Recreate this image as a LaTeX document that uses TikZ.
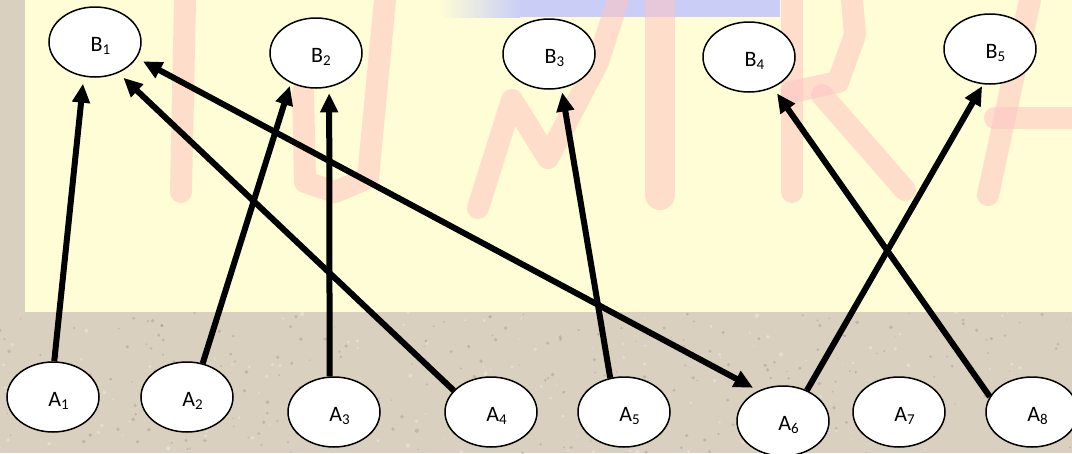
\documentclass[tikz,border=0pt]{standalone}
\usepackage{fontspec}
\setmainfont{Carlito}
\usetikzlibrary{shapes.geometric,arrows.meta}
\definecolor{bgbeige}{HTML}{D9D0BF}
\definecolor{bgyellow}{HTML}{FEFDD6}
\definecolor{bgpink}{HTML}{FFC4C2}
\definecolor{bgblue}{HTML}{CACEF6}
\newcommand\subsc[1]{\raisebox{-3pt}{\fontsize{15}{15}\selectfont #1}}
\tikzset{
  ell/.style={ellipse, draw=black, line width=1.5pt, fill=white,
    minimum width=92pt, minimum height=70pt, inner sep=0pt,
    font=\fontsize{22}{22}\selectfont, text height=18pt, text depth=0pt},
  conn/.style={line width=6pt},
  >={Triangle[length=19pt,width=17pt]},
  deco/.style={line width=22pt, draw=bgpink, opacity=0.55, line cap=round, line join=round}
}
\begin{document}
\begin{tikzpicture}[x=1pt,y=-1pt]
\useasboundingbox (0,0) rectangle (1072,453);
% background
\fill[bgbeige] (0,0) rectangle (1072,453);
\pgfmathsetseed{7}
\foreach \i in {1,...,260}{
  \pgfmathsetmacro\rx{rnd*1072}
  \pgfmathsetmacro\ry{312+rnd*141}
  \pgfmathsetmacro\rr{0.6+rnd*1.4}
  \fill[black!35!bgbeige, opacity=0.35] (\rx,\ry) circle[radius=\rr];
}
\foreach \i in {1,...,160}{
  \pgfmathsetmacro\rx{rnd*1072}
  \pgfmathsetmacro\ry{312+rnd*141}
  \pgfmathsetmacro\rr{0.6+rnd*1.6}
  \fill[white, opacity=0.3] (\rx,\ry) circle[radius=\rr];
}
\fill[bgyellow] (25,0) rectangle (1072,312);
% faint top band
\shade[left color=bgyellow, right color=bgblue] (440,0) rectangle (520,17);
\fill[bgblue] (520,0) rectangle (780,17);
% faint background letters
\draw[deco] (185,0) -- (181,192);
\draw[deco] (303,92) -- (305,182) -- (335,192) -- (368,178) -- (385,0);
\draw[deco] (478,208) -- (512,100) -- (548,158) -- (598,62) -- (618,0);
\draw[deco, line width=30pt] (660,0) -- (660,195);
\draw[deco] (792,0) -- (792,192);
\draw[deco] (792,92) -- (838,82) -- (855,35) -- (852,0);
\draw[deco] (822,95) -- (905,190);
\draw[deco] (1030,0) -- (988,195);
\draw[deco] (995,118) -- (1072,118);
% nodes
\node[ell] (B1) at (95,42) {\hspace*{11pt}B\subsc{1}};
\node[ell] (B2) at (316,53) {\hspace*{10pt}B\subsc{2}};
\node[ell] (B3) at (549,54) {\hspace*{11pt}B\subsc{3}};
\node[ell] (B4) at (749,57) {\hspace*{11pt}B\subsc{4}};
\node[ell] (B5) at (990,49) {\hspace*{11pt}B\subsc{5}};
\node[ell] (A1) at (53,397) {\hspace*{11pt}A\subsc{1}};
\node[ell] (A2) at (187,397) {\hspace*{11pt}A\subsc{2}};
\node[ell] (A3) at (334,412) {\hspace*{11pt}A\subsc{3}};
\node[ell] (A4) at (491,412) {\hspace*{11pt}A\subsc{4}};
\node[ell] (A5) at (624,412) {\hspace*{11pt}A\subsc{5}};
\node[ell] (A6) at (783,421) {\hspace*{11pt}A\subsc{6}};
\node[ell] (A7) at (899,412) {\hspace*{11pt}A\subsc{7}};
\node[ell] (A8) at (1032,412) {\hspace*{11pt}A\subsc{8}};
% connectors
\draw[conn, ->, shorten >=7pt] (A1.88) -- (B1.252);
\draw[conn, ->, shorten >=3pt] (A2.65) -- (B2.230);
\draw[conn, ->, shorten >=6pt] (A3.97) -- (B2.291);
\draw[conn, ->, shorten >=7pt] (A4.150) -- (B1.307);
\draw[conn, <->, shorten <=7pt, shorten >=6pt] (B1.339) -- (A6.129);
\draw[conn, ->, shorten >=4pt] (A5.112) -- (B3.290);
\draw[conn, ->, shorten >=2pt] (A6.52) -- (B5.259);
\draw[conn, ->, shorten >=7pt] (A8.160) -- (B4.308);
\end{tikzpicture}
\end{document}
